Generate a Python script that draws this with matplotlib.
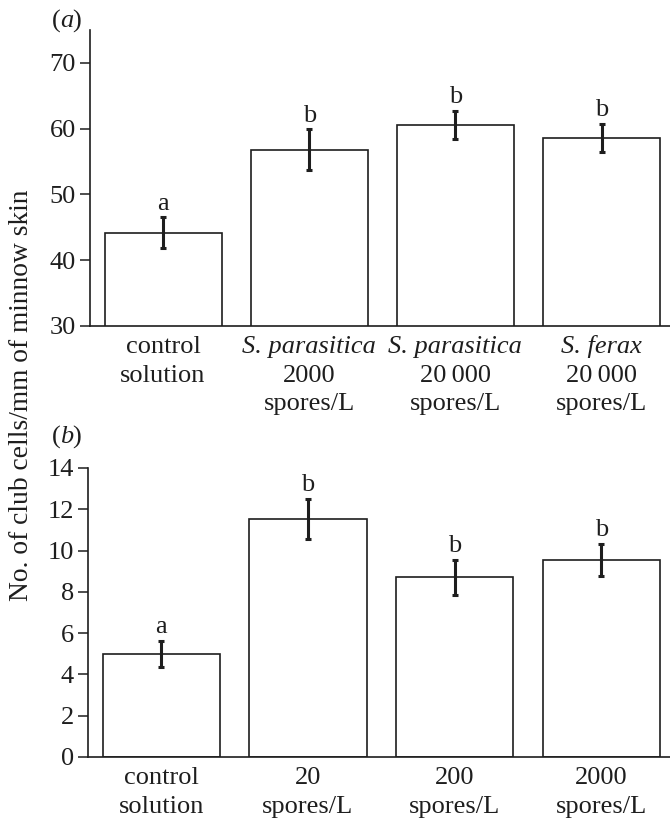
import matplotlib
matplotlib.use("Agg")
import matplotlib.pyplot as plt

plt.rcParams['font.family'] = ['Liberation Serif', 'DejaVu Serif']
plt.rcParams['font.size'] = 19

# panel (a)
cats_a = [["control", "solution"],
          ["S. parasitica", "2000", "spores/L"],
          ["S. parasitica", "20\u2009000", "spores/L"],
          ["S. ferax", "20\u2009000", "spores/L"]]
italic_a = [[False, False], [True, False, False], [True, False, False], [True, False, False]]
vals_a = [44.2, 56.8, 60.6, 58.6]
err_a = [2.3, 3.1, 2.1, 2.15]
sig_a = ["a", "b", "b", "b"]

# panel (b)
cats_b = [["control", "solution"], ["20", "spores/L"], ["200", "spores/L"], ["2000", "spores/L"]]
vals_b = [5.0, 11.55, 8.7, 9.55]
err_b = [0.63, 0.97, 0.85, 0.77]
sig_b = ["a", "b", "b", "b"]

ink = "#1e1e1e"

fig = plt.figure(figsize=(6.7, 8.18), dpi=100)
ax_a = fig.add_axes([0.1343, 0.6015, 0.866, 0.3618])
ax_b = fig.add_axes([0.1313, 0.0746, 0.869, 0.3533])


def draw_panel(ax, vals, errs, sigs, cats, italics, ylim, yticks):
    x = list(range(len(vals)))
    ax.bar(x, vals, width=0.8, color="white", edgecolor=ink, linewidth=1.2, zorder=2)
    ax.errorbar(x, vals, yerr=errs, fmt="none", ecolor=ink, elinewidth=2.2,
                capsize=2.5, capthick=2.2, zorder=3)
    for xi, v, e, s in zip(x, vals, errs, sigs):
        ax.annotate(s, (xi, v + e), xytext=(0, 5.5), textcoords="offset points",
                    ha="center", va="baseline", color=ink)
    for xi, lines in enumerate(cats):
        for j, line in enumerate(lines):
            it = italics[xi][j] if italics else False
            ax.annotate(line, (xi, 0), xycoords=("data", "axes fraction"),
                        xytext=(0, -19.5 - 20.5 * j), textcoords="offset points",
                        ha="center", va="baseline", color=ink,
                        style="italic" if it else "normal")
    ax.set_xlim(-0.5, 3.47)
    ax.set_ylim(*ylim)
    ax.set_yticks(yticks)
    ax.set_xticks([])
    for side in ["top", "right"]:
        ax.spines[side].set_visible(False)
    for side in ["left", "bottom"]:
        ax.spines[side].set_color(ink)
        ax.spines[side].set_linewidth(1.2)
    ax.tick_params(axis="y", direction="out", length=7, width=1.1, color=ink,
                   labelcolor=ink, pad=3)


draw_panel(ax_a, vals_a, err_a, sig_a, cats_a, italic_a, (30, 75), [30, 40, 50, 60, 70])
draw_panel(ax_b, vals_b, err_b, sig_b, cats_b, None, (0, 14), list(range(0, 15, 2)))

# panel letters: "(" + italic letter + ")"
for lab, y in [("a", 21), ("b", 437)]:
    fig.text(52 / 670, 1 - y / 818, "(", ha="left", va="center", color=ink)
    fig.text(60 / 670, 1 - y / 818, lab, ha="left", va="center", color=ink, style="italic")
    fig.text(72 / 670, 1 - y / 818, ")", ha="left", va="center", color=ink)

fig.text(22 / 670, 1 - 395 / 818, "No. of club cells/mm of minnow skin",
         rotation=90, ha="center", va="center", color=ink, fontsize=19.8)

fig.savefig("out.png", dpi=100)
